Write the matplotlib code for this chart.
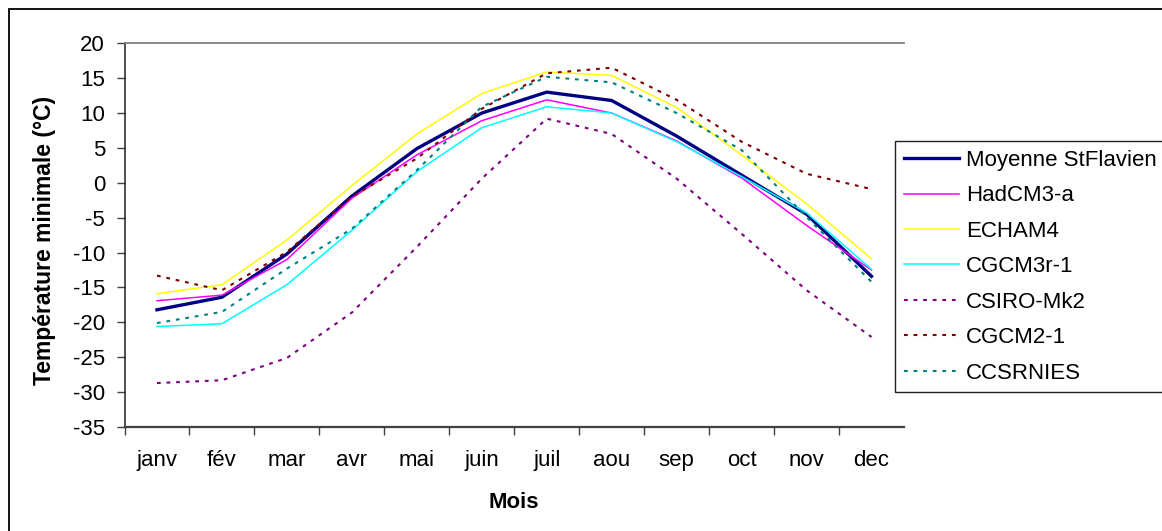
import matplotlib
matplotlib.use("Agg")
import matplotlib.pyplot as plt
from matplotlib.patches import Rectangle

plt.rcParams['font.family'] = ['Liberation Sans', 'DejaVu Sans']
plt.rcParams['axes.unicode_minus'] = False

mois = ['janv', 'fév', 'mar', 'avr', 'mai', 'juin', 'juil', 'aou', 'sep', 'oct', 'nov', 'dec']

# temperatures minimales (°C)
moyenne_stflavien = [-18.2, -16.4, -10.2, -1.9, 4.9, 10.0, 13.0, 11.8, 6.7, 1.1, -4.5, -13.4]
hadcm3_a = [-16.9, -16.1, -11.0, -2.2, 4.0, 8.9, 11.9, 10.0, 6.0, 0.7, -6.1, -12.5]
echam4 = [-15.9, -14.6, -8.2, -0.4, 7.0, 12.8, 15.9, 15.4, 10.8, 4.0, -3.0, -10.9]
cgcm3r_1 = [-20.6, -20.2, -14.6, -6.8, 1.6, 7.9, 10.9, 10.0, 5.9, 0.9, -4.3, -12.4]
csiro_mk2 = [-28.7, -28.3, -25.1, -18.6, -9.2, 0.6, 9.2, 7.0, 0.6, -7.3, -15.4, -22.1]
cgcm2_1 = [-13.3, -15.4, -9.9, -2.0, 3.5, 10.6, 15.7, 16.5, 11.9, 5.9, 1.3, -0.9]
ccsrnies = [-20.1, -18.5, -12.3, -6.6, 1.8, 10.9, 15.2, 14.4, 10.0, 4.7, -4.9, -14.2]

W, H = 1162, 531
fs = 16
fig = plt.figure(figsize=(W / 100, H / 100), dpi=100)

# cadre exterieur du graphique
fig.patches.append(Rectangle((9 / W, -0.1), 1.2, 1.1 - 9 / H, transform=fig.transFigure,
                             fill=False, edgecolor='black', linewidth=1.3))

ax = fig.add_axes([124.5 / W, (H - 427) / H, (904 - 124.5) / W, (427 - 43.3) / H])
x = list(range(len(mois)))

dot = (0, (1.8, 2.8))
ax.plot(x, moyenne_stflavien, color='#000080', lw=2.4, label='Moyenne StFlavien')
ax.plot(x, hadcm3_a, color='#FF00FF', lw=1.1, label='HadCM3-a')
ax.plot(x, echam4, color='#FFFF00', lw=1.1, label='ECHAM4')
ax.plot(x, cgcm3r_1, color='#00FFFF', lw=1.1, label='CGCM3r-1')
ax.plot(x, csiro_mk2, color='#800080', lw=1.5, linestyle=dot, label='CSIRO-Mk2')
ax.plot(x, cgcm2_1, color='#800000', lw=1.5, linestyle=dot, label='CGCM2-1')
ax.plot(x, ccsrnies, color='#008080', lw=1.5, linestyle=dot, label='CCSRNIES')

ax.set_xlim(-0.5, 11.5)
ax.set_ylim(-35, 20)
ax.set_yticks(range(-35, 25, 5))
ax.set_xticks(x)
ax.set_xticklabels(mois)
ax.set_xticks([i - 0.5 for i in range(12)], minor=True)
ax.tick_params(axis='x', which='major', length=0, pad=16.5, labelsize=fs)
ax.tick_params(axis='x', which='minor', length=6, width=1, color='#404040')
ax.tick_params(axis='y', length=6, width=1, color='#404040', pad=8, labelsize=fs)

ax.spines['right'].set_visible(False)
ax.spines['top'].set_color('#808080')
ax.spines['top'].set_linewidth(1.3)
ax.spines['left'].set_color('#202020')
ax.spines['bottom'].set_color('#404040')
ax.spines['left'].set_linewidth(1.1)
ax.spines['bottom'].set_linewidth(1.6)

fig.text(45 / W, (H - 240) / H, 'Température minimale (°C)', rotation=90,
         ha='center', va='center', fontsize=fs + 0.5, fontweight='bold')
fig.text(514 / W, (H - 502) / H, 'Mois', ha='center', va='center',
         fontsize=fs, fontweight='bold')

leg = fig.legend(loc='upper left', bbox_to_anchor=(895 / W, (H - 141) / H),
                 fontsize=fs, frameon=True, fancybox=False, shadow=False,
                 handlelength=2.5, handletextpad=0.3, labelspacing=0.65,
                 borderpad=0.4, borderaxespad=0)
leg.get_frame().set_edgecolor('#202020')
leg.get_frame().set_linewidth(1.0)
leg.get_frame().set_alpha(1)

fig.savefig('out.png', dpi=100)
